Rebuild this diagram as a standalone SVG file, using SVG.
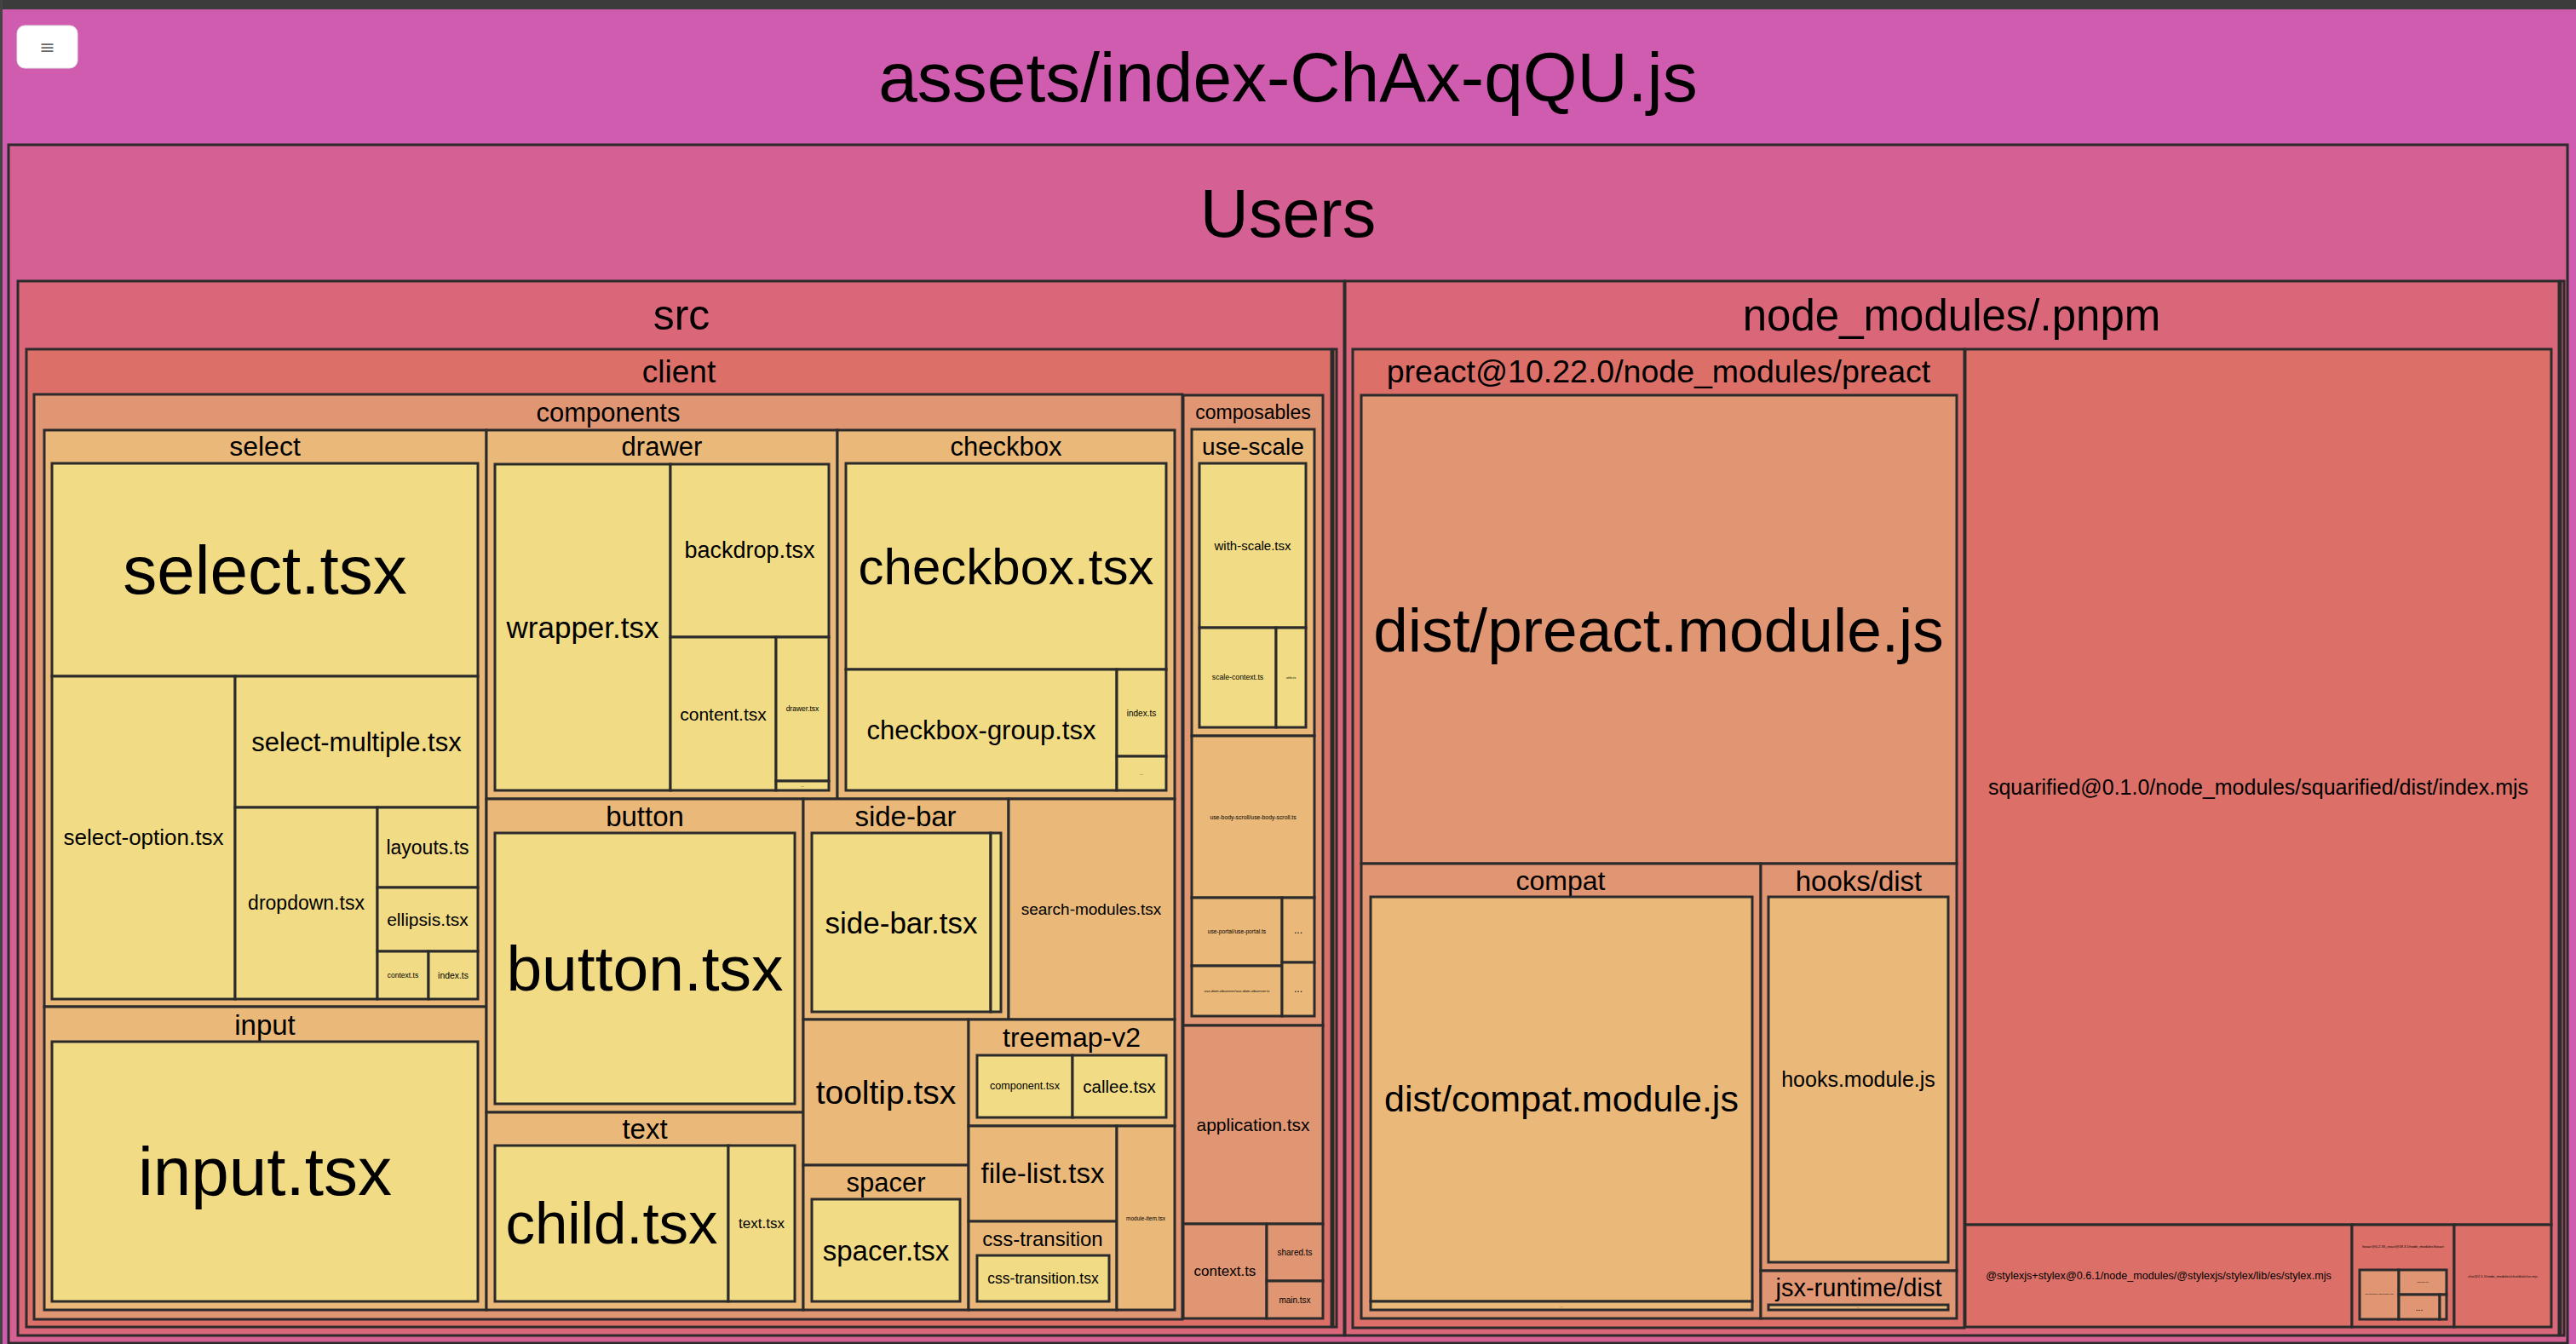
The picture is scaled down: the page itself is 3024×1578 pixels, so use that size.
<svg xmlns="http://www.w3.org/2000/svg" width="3024" height="1578" viewBox="0 0 3024 1578">
<style>
rect.b{stroke:#2b2b2b;stroke-width:3}
.d0{fill:#D05CB0}.d1{fill:#D46094}.d2{fill:#DA667A}.d3{fill:#DC7068}.d4{fill:#E19673}.d5{fill:#EAB97A}.d6{fill:#F1DC85}
text{font-family:"Liberation Sans",Arial,sans-serif;fill:#000;text-anchor:middle;dominant-baseline:central}
</style>
<rect x="0" y="0" width="3024" height="1578" fill="#D05CB0"/>
<rect x="0" y="0" width="3024" height="11" fill="#3c3c3c"/>
<rect x="0" y="0" width="3" height="1578" fill="#444"/>
<g id="menu-button">
<rect x="20" y="30" width="71" height="50" rx="9" fill="#fff" stroke="#e2e2e2" stroke-width="1"/>
<text x="55.5" y="55" font-size="22" style="fill:#666;font-family:'DejaVu Sans',sans-serif">≡</text>
</g>
<g id="root"><text x="1512" y="90" font-size="82">assets/index-ChAx-qQU.js</text></g>
<g id="users"><rect class="b d1" x="10" y="170" width="3004" height="1407"/><text x="1512" y="250" font-size="79">Users</text></g>
<g id="src"><rect class="b d2" x="21" y="330" width="1557" height="1238"/><text x="800" y="370" font-size="50">src</text></g>
<g id="node-modules"><rect class="b d2" x="1579" y="330" width="1425" height="1238"/><text x="2291" y="370" font-size="51">node_modules/.pnpm</text></g>
<g id="users-extra"><rect class="b d2" x="3006" y="330" width="4" height="1238"/></g>
<g id="client"><rect class="b d3" x="31" y="410" width="1532" height="1148"/><text x="797" y="436" font-size="37">client</text></g>
<g id="src-extra"><rect class="b d3" x="1565" y="410" width="4" height="1148"/></g>
<g id="components"><rect class="b d4" x="40" y="463" width="1348" height="1086"/><text x="714" y="484" font-size="31">components</text></g>
<g id="select"><rect class="b d5" x="52" y="505" width="519" height="677"/><text x="311" y="524" font-size="32">select</text></g>
<g id="select-tsx"><rect class="b d6" x="61" y="544" width="500" height="250"/><text x="311" y="669" font-size="80">select.tsx</text></g>
<g id="select-option"><rect class="b d6" x="61" y="794" width="215" height="379"/><text x="168.5" y="983" font-size="26">select-option.tsx</text></g>
<g id="select-multiple"><rect class="b d6" x="276" y="794" width="285" height="154"/><text x="418.5" y="871" font-size="31">select-multiple.tsx</text></g>
<g id="dropdown"><rect class="b d6" x="276" y="948" width="167" height="225"/><text x="359.5" y="1060" font-size="23">dropdown.tsx</text></g>
<g id="layouts"><rect class="b d6" x="443" y="948" width="118" height="94"/><text x="502" y="995" font-size="23">layouts.ts</text></g>
<g id="ellipsis"><rect class="b d6" x="443" y="1042" width="118" height="75"/><text x="502" y="1079.5" font-size="21">ellipsis.tsx</text></g>
<g id="select-context"><rect class="b d6" x="443" y="1117" width="60" height="56"/><text x="473" y="1145" font-size="8.5">context.ts</text></g>
<g id="select-index"><rect class="b d6" x="503" y="1117" width="58" height="56"/><text x="532" y="1145" font-size="10.4">index.ts</text></g>
<g id="input"><rect class="b d5" x="52" y="1182" width="519" height="356"/><text x="311" y="1203" font-size="33">input</text></g>
<g id="input-tsx"><rect class="b d6" x="61" y="1223" width="500" height="305"/><text x="311" y="1375" font-size="80">input.tsx</text></g>
<g id="drawer"><rect class="b d5" x="571" y="505" width="412" height="433"/><text x="777" y="524" font-size="31">drawer</text></g>
<g id="wrapper"><rect class="b d6" x="581" y="545" width="206" height="383"/><text x="684" y="736" font-size="35">wrapper.tsx</text></g>
<g id="backdrop"><rect class="b d6" x="787" y="545" width="186" height="203"/><text x="880" y="646" font-size="27">backdrop.tsx</text></g>
<g id="content"><rect class="b d6" x="787" y="748" width="124" height="180"/><text x="849" y="838" font-size="21">content.tsx</text></g>
<g id="drawer-tsx"><rect class="b d6" x="911" y="748" width="62" height="169"/><text x="942" y="832" font-size="8.5">drawer.tsx</text></g>
<g id="drawer-more"><rect class="b d6" x="911" y="917" width="62" height="11"/><text x="942" y="922" font-size="5">...</text></g>
<g id="checkbox"><rect class="b d5" x="983" y="505" width="396" height="433"/><text x="1181" y="524" font-size="31">checkbox</text></g>
<g id="checkbox-tsx"><rect class="b d6" x="993" y="544" width="376" height="242"/><text x="1181" y="665" font-size="60">checkbox.tsx</text></g>
<g id="checkbox-group"><rect class="b d6" x="993" y="786" width="318" height="142"/><text x="1152" y="857" font-size="31">checkbox-group.tsx</text></g>
<g id="checkbox-index"><rect class="b d6" x="1311" y="786" width="58" height="102"/><text x="1340" y="837" font-size="10">index.ts</text></g>
<g id="checkbox-more"><rect class="b d6" x="1311" y="888" width="58" height="40"/><text x="1340" y="908" font-size="5">...</text></g>
<g id="button"><rect class="b d5" x="571" y="938" width="372" height="368"/><text x="757" y="958" font-size="33">button</text></g>
<g id="button-tsx"><rect class="b d6" x="581" y="978" width="352" height="318"/><text x="757" y="1137" font-size="75">button.tsx</text></g>
<g id="text"><rect class="b d5" x="571" y="1306" width="372" height="232"/><text x="757" y="1325" font-size="33">text</text></g>
<g id="child-tsx"><rect class="b d6" x="581" y="1345" width="274" height="183"/><text x="718" y="1436" font-size="69">child.tsx</text></g>
<g id="text-tsx"><rect class="b d6" x="855" y="1345" width="78" height="183"/><text x="894" y="1436" font-size="17">text.tsx</text></g>
<g id="side-bar"><rect class="b d5" x="943" y="938" width="241" height="259"/><text x="1063" y="958" font-size="33">side-bar</text></g>
<g id="side-bar-tsx"><rect class="b d6" x="953" y="978" width="210" height="210"/><text x="1058" y="1083" font-size="35">side-bar.tsx</text></g>
<g id="side-bar-extra"><rect class="b d6" x="1163" y="978" width="12" height="210"/></g>
<g id="search-modules"><rect class="b d5" x="1184" y="938" width="195" height="259"/><text x="1281" y="1067" font-size="19">search-modules.tsx</text></g>
<g id="tooltip"><rect class="b d5" x="943" y="1197" width="194" height="171"/><text x="1040" y="1282" font-size="39">tooltip.tsx</text></g>
<g id="spacer"><rect class="b d5" x="943" y="1368" width="194" height="170"/><text x="1040" y="1388" font-size="31">spacer</text></g>
<g id="spacer-tsx"><rect class="b d6" x="953" y="1408" width="174" height="120"/><text x="1040" y="1468" font-size="33">spacer.tsx</text></g>
<g id="treemap-v2"><rect class="b d5" x="1137" y="1197" width="242" height="125"/><text x="1258" y="1218" font-size="32">treemap-v2</text></g>
<g id="component-tsx"><rect class="b d6" x="1147" y="1239" width="112" height="73"/><text x="1203" y="1275" font-size="12.6">component.tsx</text></g>
<g id="callee-tsx"><rect class="b d6" x="1259" y="1239" width="110" height="73"/><text x="1314" y="1275" font-size="20.5">callee.tsx</text></g>
<g id="file-list"><rect class="b d5" x="1137" y="1322" width="174" height="112"/><text x="1224" y="1377" font-size="33">file-list.tsx</text></g>
<g id="css-transition"><rect class="b d5" x="1137" y="1434" width="174" height="104"/><text x="1224" y="1454" font-size="24">css-transition</text></g>
<g id="css-transition-tsx"><rect class="b d6" x="1147" y="1474" width="155" height="54"/><text x="1224.5" y="1501" font-size="17.5">css-transition.tsx</text></g>
<g id="module-item"><rect class="b d5" x="1311" y="1322" width="68" height="216"/><text x="1345" y="1430" font-size="6.5">module-item.tsx</text></g>
<g id="composables"><rect class="b d4" x="1389" y="464" width="164" height="740"/><text x="1471" y="484" font-size="23">composables</text></g>
<g id="use-scale"><rect class="b d5" x="1399" y="504" width="144" height="360"/><text x="1471" y="524" font-size="28">use-scale</text></g>
<g id="with-scale"><rect class="b d6" x="1408" y="544" width="125" height="193"/><text x="1470.5" y="640" font-size="15">with-scale.tsx</text></g>
<g id="scale-context"><rect class="b d6" x="1408" y="737" width="90" height="117"/><text x="1453" y="795" font-size="8.7">scale-context.ts</text></g>
<g id="utils"><rect class="b d6" x="1498" y="737" width="35" height="117"/><text x="1515.5" y="795" font-size="4">utils.ts</text></g>
<g id="use-body-scroll"><rect class="b d5" x="1399" y="864" width="144" height="190"/><text x="1471" y="959" font-size="6.8">use-body-scroll/use-body-scroll.ts</text></g>
<g id="use-portal"><rect class="b d5" x="1399" y="1054" width="106" height="80"/><text x="1452" y="1093" font-size="6.7">use-portal/use-portal.ts</text></g>
<g id="composables-more-1"><rect class="b d5" x="1505" y="1054" width="38" height="76"/><text x="1524" y="1092" font-size="12">...</text></g>
<g id="use-dom-observer"><rect class="b d5" x="1399" y="1134" width="106" height="59"/><text x="1452" y="1163" font-size="4.4">use-dom-observer/use-dom-observer.ts</text></g>
<g id="composables-more-2"><rect class="b d5" x="1505" y="1130" width="38" height="63"/><text x="1524" y="1161" font-size="12">...</text></g>
<g id="application"><rect class="b d4" x="1389" y="1204" width="164" height="233"/><text x="1471" y="1320" font-size="21">application.tsx</text></g>
<g id="client-context"><rect class="b d4" x="1389" y="1437" width="98" height="111"/><text x="1438" y="1492" font-size="17">context.ts</text></g>
<g id="shared"><rect class="b d4" x="1487" y="1437" width="66" height="67"/><text x="1520" y="1470" font-size="10">shared.ts</text></g>
<g id="main"><rect class="b d4" x="1487" y="1504" width="66" height="44"/><text x="1520" y="1526" font-size="10">main.tsx</text></g>
<g id="preact"><rect class="b d3" x="1588" y="410" width="718" height="1149"/><text x="1947" y="436" font-size="37.5">preact@10.22.0/node_modules/preact</text></g>
<g id="preact-module"><rect class="b d4" x="1598" y="464" width="699" height="550"/><text x="1947" y="739" font-size="73">dist/preact.module.js</text></g>
<g id="compat"><rect class="b d4" x="1598" y="1014" width="469" height="534"/><text x="1832" y="1034" font-size="32">compat</text></g>
<g id="compat-module"><rect class="b d5" x="1609" y="1053" width="448" height="475"/><text x="1833" y="1290" font-size="43">dist/compat.module.js</text></g>
<g id="compat-more"><rect class="b d5" x="1609" y="1528" width="448" height="10"/><text x="1833" y="1533" font-size="4">...</text></g>
<g id="hooks"><rect class="b d4" x="2067" y="1014" width="230" height="478"/><text x="2182" y="1034" font-size="33">hooks/dist</text></g>
<g id="hooks-module"><rect class="b d5" x="2076" y="1053" width="211" height="429"/><text x="2181.5" y="1267" font-size="25">hooks.module.js</text></g>
<g id="jsx-runtime"><rect class="b d4" x="2067" y="1492" width="230" height="56"/><text x="2182" y="1512" font-size="29">jsx-runtime/dist</text></g>
<g id="jsx-runtime-module"><rect class="b d5" x="2076" y="1532" width="211" height="6"/><text x="2181.5" y="1535" font-size="3">...</text></g>
<g id="squarified"><rect class="b d3" x="2307" y="410" width="688" height="1028"/><text x="2651" y="924" font-size="25">squarified@0.1.0/node_modules/squarified/dist/index.mjs</text></g>
<g id="stylex"><rect class="b d3" x="2307" y="1438" width="454" height="120"/><text x="2534" y="1498" font-size="12.6">@stylexjs+stylex@0.6.1/node_modules/@stylexjs/stylex/lib/es/stylex.mjs</text></g>
<g id="foxact"><rect class="b d3" x="2761" y="1438" width="120" height="120"/><text x="2821" y="1463" font-size="4.2">foxact@0.2.35_react@18.3.1/node_modules/foxact</text></g>
<g id="foxact-a"><rect class="b d4" x="2770" y="1491" width="46" height="58"/><text x="2793" y="1519" font-size="2.5">use-abortable-effect/index.mjs</text></g>
<g id="foxact-b"><rect class="b d4" x="2816" y="1491" width="56" height="29"/><text x="2844" y="1505" font-size="2">noop/index.mjs</text></g>
<g id="foxact-more"><rect class="b d4" x="2816" y="1520" width="48" height="29"/><text x="2840" y="1535" font-size="10">...</text></g>
<g id="foxact-d"><rect class="b d4" x="2864" y="1520" width="8" height="29"/></g>
<g id="clsx"><rect class="b d3" x="2881" y="1438" width="114" height="120"/><text x="2938" y="1498" font-size="4.2">clsx@2.1.1/node_modules/clsx/dist/clsx.mjs</text></g>
<g id="connectors"></g>
</svg>
